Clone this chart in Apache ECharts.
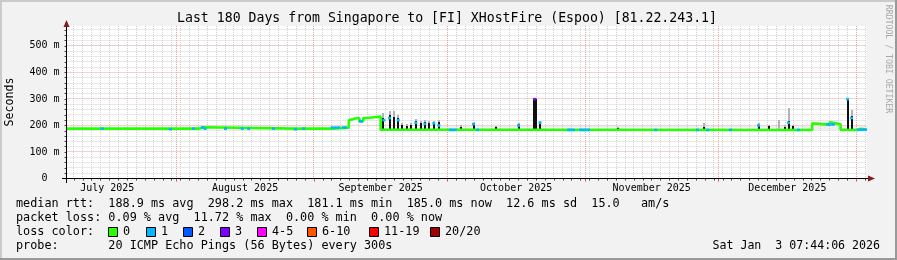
<!DOCTYPE html>
<html><head><meta charset="utf-8">
<script src="https://cdn.jsdelivr.net/npm/echarts@6/dist/echarts.min.js"></script>
<style>html,body{margin:0;padding:0;background:#f2f2f2}#c{width:897px;height:260px}</style>
</head><body><div id="c"></div>
<script>
// x unit: days since 2025-07-01 00:00 (window: Jul 7 07:44 -> Jan 3 2026 07:44)
const axisStart = 6.322, axisEnd = 186.322;
const monthStarts = [31, 62, 92, 123, 153, 184];
const monthMids = [15.5, 46.5, 77, 107.5, 138, 168.5];
const monthLabels = ['July 2025','August 2025','September 2025','October 2025','November 2025','December 2025'];
const yLabelValues = [0, 100, 200, 300, 400, 500];
const yMax = 575;

// median rtt (ms), step function: value i holds from day i to day i+1
const medianDays = [6.32, 29.5, 29.9, 36.0, 37.5, 57.7, 58.1, 66.2, 69.85, 70.2, 71.3, 72.2, 73.1, 74.0, 77.0, 90.3, 174.1, 175.0, 178.0, 178.5, 180.5, 184.4, 185.0, 186.32];
const medianMs   = [188,  186,  188,  193,  188,  186,  188,  192,  220,   226,  228,  216,  228,  234,  184,  183,  207,   203,   211,   204,   183,   187,   184,   184];

// spikes: day, base, dark top, smoke top (ms)
const spikeDays  = [77.6, 79.0, 79.97, 80.96, 81.86, 82.99, 83.89, 84.92, 85.98, 86.95, 87.94, 88.97, 90.1, 94.98, 97.9, 102.86, 108.03, 111.52, 111.97, 112.87, 130.31, 149.66, 162.03, 164.28, 166.53, 167.88, 168.78, 169.68, 178.01, 182.06, 182.96];
const spikeBase  = [184, 184, 184, 184, 184, 184, 184, 184, 184, 184, 184, 184, 184, 183, 183, 183, 183, 183, 183, 183, 183, 183, 183, 183, 183, 183, 183, 183, 204, 183, 183];
const spikeTop   = [227, 239, 233, 227, 202, 198, 202, 217, 208, 212, 209, 209, 214, 195, 208, 196, 205, 300, 300, 212, 192, 196, 203, 199, 186, 195, 215, 197, 212, 301, 234];
const spikeSmoke = [246, 255, 253, 240, 210, 205, 210, 226, 216, 220, 216, 216, 222, 200, 213, 199, 210, 302, 302, 218, 195, 209, 208, 203, 222, 200, 266, 200, 215, 303, 260];

// light smoke band: start day, end day, low, high (ms)
const smokeStart = [90.3];
const smokeEnd   = [186.32];
const smokeLow   = [183];
const smokeHigh  = [198];

// median points drawn in loss colour: day, ms, loss level index
const lossDotDays  = [14.36, 29.7, 34.9, 36.9, 37.5, 42.1, 45.86, 47.3, 52.9, 57.85, 59.65, 66.1, 66.8, 67.5, 68.6, 69.1, 72.4, 72.7, 77.72, 79.0, 80.96, 84.92, 86.95, 88.97, 90.1, 92.7, 93.2, 93.8, 97.9, 98.8, 108.03, 112.87, 119.3, 119.8, 120.4, 122.0, 122.6, 123.2, 123.8, 138.9, 148.3, 150.6, 155.7, 162.03, 168.78, 171.0, 177.6, 178.2, 178.9, 182.96, 184.5, 185.1, 185.7, 186.1, 111.7, 182.06];
const lossDotMs    = [188, 186, 188, 193, 188, 188, 188, 188, 188, 186, 188, 192, 192, 192, 192, 192, 216, 216, 220, 228, 220, 210, 206, 208, 200, 183, 183, 183, 205, 183, 200, 210, 183, 183, 183, 183, 183, 183, 183, 183, 183, 183, 183, 200, 210, 183, 204, 204, 204, 228, 184, 184, 184, 184, 299, 299];
const lossDotLevel = [1, 1, 1, 1, 1, 1, 1, 1, 1, 1, 1, 1, 1, 1, 1, 1, 1, 1, 1, 1, 1, 1, 1, 1, 1, 1, 1, 1, 1, 1, 1, 1, 1, 1, 1, 1, 1, 1, 1, 1, 1, 1, 1, 1, 1, 1, 1, 1, 1, 1, 1, 1, 1, 1, 3, 1];

const lossLabels = ['0', '1', '2', '3', '4-5', '6-10', '11-19', '20/20'];
const lossColors = ['#26ff00', '#00b8ff', '#0059ff', '#7e00ff', '#ff00ff', '#ff5500', '#ff0000', '#a10000'];

const titleText = 'Last 180 Days from Singapore to [FI] XHostFire (Espoo) [81.22.243.1]';
const legendRows = [
  'median rtt:  188.9 ms avg  298.2 ms max  181.1 ms min  185.0 ms now  12.6 ms sd  15.0   am/s',
  'packet loss: 0.09 % avg  11.72 % max  0.00 % min  0.00 % now',
  'loss color:',
  'probe:       20 ICMP Echo Pings (56 Bytes) every 300s'
];
const stampText = 'Sat Jan  3 07:44:06 2026';

// ---- layout / styling ----
const MONO = '"DejaVu Sans Mono", monospace';
const minorX = []; for (let d = 8; d <= 186; d += 2) minorX.push(d);
const minorY = []; for (let v = 20; v <= 560; v += 20) if (v % 100) minorY.push(v);
const allTicksY = []; for (let v = 0; v <= 560; v += 20) allTicksY.push(v);

// grid line rows: [orientation 0=vertical 1=horizontal, value, major?]
const gridRows = []
  .concat(minorX.map(d => [0, d, 0]))
  .concat(minorY.map(v => [1, v, 0]))
  .concat(monthStarts.map(d => [0, d, 1]))
  .concat(yLabelValues.slice(1).map(v => [1, v, 1]));

// step path built from the median arrays (value i held until day i+1)
const medianStepData = [];
medianDays.forEach((d, i) => {
  medianStepData.push([d, medianMs[i]]);
  if (i < medianDays.length - 1) medianStepData.push([medianDays[i + 1], medianMs[i]]);
});

const chart = echarts.init(document.getElementById('c'), null, {renderer: 'canvas'});

function nearestLabel(v) {
  let bi = 0; for (let i = 0; i < monthMids.length; i++) if (Math.abs(monthMids[i] - v) < Math.abs(monthMids[bi] - v)) bi = i;
  return monthLabels[bi];
}

const lossSqX = [108, 146, 183, 220, 257, 307, 369, 430];
const graphic = [
  {type: 'rect', shape: {x: 0, y: 0, width: 897, height: 2}, style: {fill: '#cbcbcb'}, silent: true},
  {type: 'rect', shape: {x: 0, y: 0, width: 2, height: 260}, style: {fill: '#cbcbcb'}, silent: true},
  {type: 'rect', shape: {x: 0, y: 258, width: 897, height: 2}, style: {fill: '#999'}, silent: true},
  {type: 'rect', shape: {x: 895, y: 0, width: 2, height: 260}, style: {fill: '#999'}, silent: true},
  {type: 'text', x: 447, y: 19, style: {text: titleText, font: '13.2px ' + MONO, fill: '#000', align: 'center', verticalAlign: 'middle'}},
  {type: 'text', x: 10, y: 102, rotation: Math.PI / 2, style: {text: 'Seconds', font: '11.6px ' + MONO, fill: '#000', align: 'center', verticalAlign: 'middle'}},
  {type: 'text', x: 888, y: 59, rotation: -Math.PI / 2, style: {text: 'RRDTOOL / TOBI OETIKER', font: '8.2px ' + MONO, fill: '#a8a8a8', align: 'center', verticalAlign: 'middle'}},
  {type: 'text', x: 880, y: 246, style: {text: stampText, font: '11.6px ' + MONO, fill: '#000', align: 'right', verticalAlign: 'middle'}},
  // axis lines + arrows
  {type: 'line', shape: {x1: 62, y1: 178.5, x2: 869, y2: 178.5}, style: {stroke: '#000', lineWidth: 1}, z: 100},
  {type: 'line', shape: {x1: 66.5, y1: 183, x2: 66.5, y2: 24}, style: {stroke: '#000', lineWidth: 1}, z: 100},
  {type: 'polygon', shape: {points: [[868, 175.5], [875, 178.5], [868, 181.5]]}, style: {fill: '#7f1f1f'}, z: 100},
  {type: 'polygon', shape: {points: [[63.5, 27], [66.5, 20], [69.5, 27]]}, style: {fill: '#7f1f1f'}, z: 100}
];
const rowY = [204.3, 218.3, 232.3, 246];
legendRows.forEach((t, i) => graphic.push({type: 'text', x: 16, y: rowY[i], style: {text: t, font: '11.8px ' + MONO, fill: '#000', align: 'left', verticalAlign: 'middle'}}));
lossLabels.forEach((l, i) => {
  graphic.push({type: 'rect', shape: {x: lossSqX[i] + 0.5, y: 227.5, width: 9, height: 9}, style: {fill: lossColors[i], stroke: '#000', lineWidth: 1}});
  graphic.push({type: 'text', x: lossSqX[i] + 15, y: 232.3, style: {text: l, font: '11.8px ' + MONO, fill: '#000', align: 'left', verticalAlign: 'middle'}});
});

const crisp = v => Math.round(v - 0.5) + 0.5;

const option = {
  animation: false,
  backgroundColor: '#f2f2f2',
  grid: {left: 66.5, top: 26, width: 800, height: 152.5, show: true, backgroundColor: '#ffffff', borderWidth: 0},
  xAxis: [{
    type: 'value', min: axisStart, max: axisEnd,
    axisLine: {show: false},
    axisTick: {show: true, customValues: minorX, length: 2, lineStyle: {color: '#444'}},
    axisLabel: {customValues: monthMids, formatter: nearestLabel, fontFamily: MONO, fontSize: 10, color: '#000', margin: 5},
    splitLine: {show: false}
  }, {
    type: 'value', min: axisStart, max: axisEnd, position: 'bottom',
    axisLine: {show: false},
    axisTick: {show: true, customValues: monthStarts, length: 3, lineStyle: {color: '#de5050'}},
    axisLabel: {show: false}, splitLine: {show: false}
  }],
  yAxis: {
    type: 'value', min: 0, max: yMax,
    axisLine: {show: false},
    axisTick: {show: true, customValues: allTicksY, length: 2, lineStyle: {color: '#444'}},
    axisLabel: {customValues: yLabelValues, formatter: v => v === 0 ? '0  ' : v + ' m', fontFamily: MONO, fontSize: 10, color: '#000', margin: 7},
    splitLine: {show: false}
  },
  graphic: graphic,
  series: [
    {type: 'custom', z: 1, silent: true, clip: false,
      data: gridRows,
      encode: {x: 1},
      renderItem: (p, api) => {
        const cs = p.coordSys;
        const horiz = api.value(0) === 1, val = api.value(1), major = api.value(2) === 1;
        const style = {stroke: major ? '#e8a2a2' : '#d2d2d2', lineWidth: 1, lineDash: [1, 1]};
        if (horiz) {
          const y = crisp(api.coord([axisStart, val])[1]);
          return {type: 'line', z2: major ? 2 : 1, shape: {x1: cs.x, y1: y, x2: cs.x + cs.width, y2: y}, style};
        }
        const x = crisp(api.coord([val, 0])[0]);
        return {type: 'line', z2: major ? 2 : 1, shape: {x1: x, y1: cs.y, x2: x, y2: cs.y + cs.height}, style};
      }},
    {type: 'custom', z: 3, silent: true,
      data: smokeStart.map((s, i) => [s, smokeEnd[i], smokeLow[i], smokeHigh[i]]),
      encode: {x: [0, 1], y: [2, 3]},
      renderItem: (p, api) => {
        const a = api.coord([api.value(0), api.value(3)]), b = api.coord([api.value(1), api.value(2)]);
        return {type: 'rect', shape: {x: a[0], y: a[1], width: b[0] - a[0], height: b[1] - a[1]}, style: {fill: 'rgba(140,140,140,0.14)'}};
      }},
    {type: 'custom', z: 4, silent: true,
      data: spikeDays.map((d, i) => [d, spikeBase[i], spikeTop[i], spikeSmoke[i]]),
      encode: {x: 0, y: [1, 2, 3]},
      renderItem: (p, api) => {
        const x = api.value(0);
        const p0 = api.coord([x, api.value(1)]), p1 = api.coord([x, api.value(2)]), p2 = api.coord([x, api.value(3)]);
        const xl = Math.round(p0[0]) - 1;
        return {type: 'group', children: [
          {type: 'rect', shape: {x: xl, y: Math.round(p2[1]), width: 2, height: Math.round(p1[1]) - Math.round(p2[1])}, style: {fill: '#b4b4b4'}},
          {type: 'rect', shape: {x: xl, y: Math.round(p1[1]), width: 2, height: Math.round(p0[1]) - Math.round(p1[1])}, style: {fill: '#111'}}
        ]};
      }},
    {type: 'line', z: 5, symbol: 'none', silent: true,
      data: medianStepData,
      lineStyle: {color: lossColors[0], width: 2.6}},
    {type: 'scatter', z: 6, silent: true, symbol: 'rect', symbolSize: [3, 2.6],
      data: lossDotDays.map((d, i) => [d, lossDotMs[i], lossDotLevel[i]]),
      itemStyle: {color: p => lossColors[p.data[2]], opacity: 1}}
  ]
};
chart.setOption(option);
</script></body></html>
